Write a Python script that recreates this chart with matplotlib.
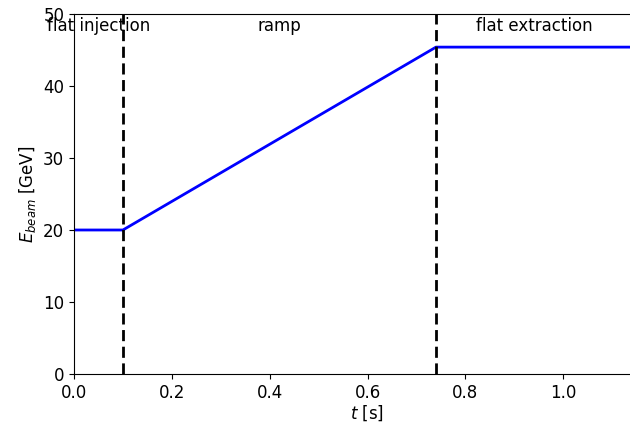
import matplotlib
matplotlib.use("Agg")
import matplotlib.pyplot as plt

# DATA
t_points = [0.0, 0.1, 0.74, 1.2]
energy = [20.0, 20.0, 45.4, 45.4]
phase_edges = [0.1, 0.74]
phase_labels = ["flat injection", "ramp", "flat extraction"]
phase_centers = [0.05, 0.42, 0.94]

fig = plt.figure(figsize=(6.3, 4.24), dpi=100)
# axes runs past the right edge of the figure, like the cropped original
ax = fig.add_axes([74 / 630, 50 / 424, 587 / 630, 360 / 424])

ax.plot(t_points, energy, color="blue", lw=2)
for x in phase_edges:
    ax.axvline(x, color="black", ls="--", lw=2, dashes=(4, 2))
for x, lab in zip(phase_centers, phase_labels):
    ax.text(x, 48.3, lab, ha="center", va="center", fontsize=12)

ax.set_xlim(0, 1.2)
ax.set_ylim(0, 50)
ax.set_xticks([0.0, 0.2, 0.4, 0.6, 0.8, 1.0])
ax.set_xlabel("$t$ [s]", fontsize=12, labelpad=1)
ax.set_ylabel("$E_{beam}$ [GeV]", fontsize=12)
ax.tick_params(labelsize=12)

fig.savefig("out.png", dpi=100)
